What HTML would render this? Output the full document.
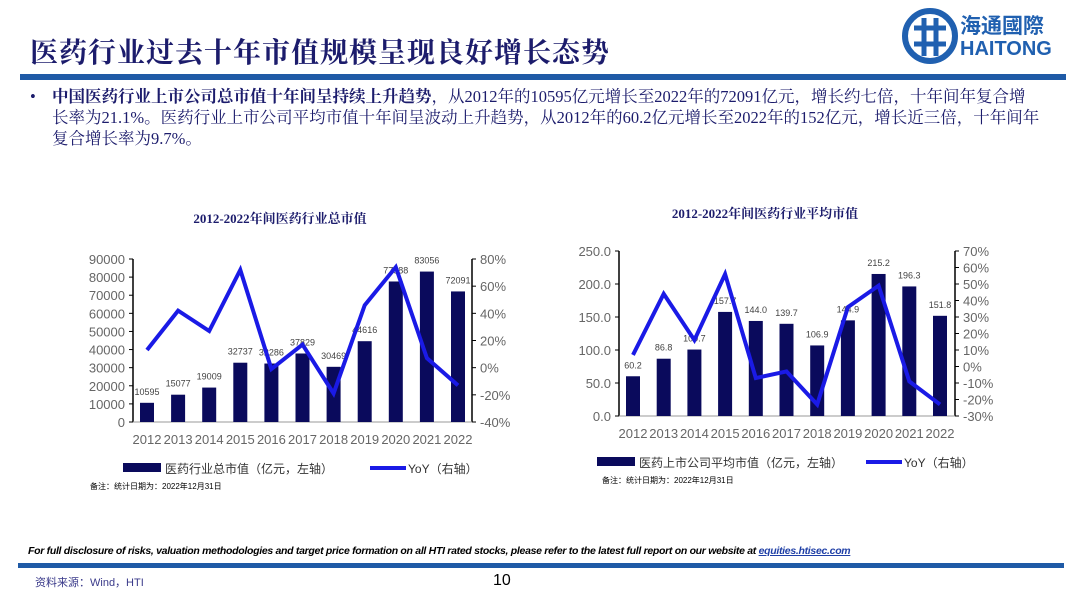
<!DOCTYPE html>
<html><head><meta charset="utf-8">
<style>
body{margin:0;width:1080px;height:607px;background:#fff;position:relative;overflow:hidden;font-family:"Liberation Sans","Noto Sans CJK SC",sans-serif}
.abs{position:absolute}
</style></head><body>
<div class="abs" style="left:30px;top:31px;font-size:28px;font-weight:bold;color:#1c1c6c;font-family:'Liberation Serif','Noto Serif CJK SC',serif;letter-spacing:1px">医药行业过去十年市值规模呈现良好增长态势</div>
<div class="abs" style="left:900px;top:8px;width:160px;height:60px">
<svg width="160" height="60"><circle cx="30" cy="28" r="25" fill="none" stroke="#2060b0" stroke-width="6"/><path d="M14 20 H46 M14 36 H46 M24 10 V48 M36 10 V48" stroke="#2060b0" stroke-width="5"/></svg>
<div class="abs" style="left:60px;top:2px;font-size:21px;font-weight:bold;color:#2060b0">海通國際</div>
<div class="abs" style="left:60px;top:30px;font-size:20px;font-weight:bold;color:#2060b0">HAITONG</div>
</div>
<div class="abs" style="left:20px;top:74px;width:1046px;height:6px;background:#1f5aa6"></div>
<div class="abs" style="left:30px;top:86px;width:1040px;font-size:16.5px;line-height:21px;color:#1c1c6c;font-family:'Liberation Serif','Noto Serif CJK SC',serif;white-space:nowrap">
<span style="position:absolute;left:0;top:0">•</span>
<div style="padding-left:22px"><b>中国医药行业上市公司总市值十年间呈持续上升趋势</b>，从2012年的10595亿元增长至2022年的72091亿元，增长约七倍，十年间年复合增<br>长率为21.1%。医药行业上市公司平均市值十年间呈波动上升趋势，从2012年的60.2亿元增长至2022年的152亿元，增长近三倍，十年间年<br>复合增长率为9.7%。</div></div>

<svg class="abs" style="left:0;top:0" width="1080" height="607" id="charts"></svg>

<div class="abs" style="left:28px;top:545px;font-size:10.5px;font-style:italic;font-weight:bold;color:#000;letter-spacing:-0.3px">For full disclosure of risks, valuation methodologies and target price formation on all HTI rated stocks, please refer to the latest full report on our website at <span style="color:#1f3fa6;text-decoration:underline">equities.htisec.com</span></div>
<div class="abs" style="left:18px;top:563px;width:1046px;height:5px;background:#1f5aa6"></div>
<div class="abs" style="left:35px;top:574px;font-size:11px;color:#3a3a8a">资料来源：Wind，HTI</div>
<div class="abs" style="left:493px;top:572px;font-size:16px;color:#000">10</div>

<script>
const years=["2012","2013","2014","2015","2016","2017","2018","2019","2020","2021","2022"];
const totalCap=[10595,15077,19009,32737,32286,37829,30469,44616,77588,83056,72091];
const totalYoy=[13,42,27,72,-1,17,-19,46,74,7,-13];
const leftTicks=[0,10000,20000,30000,40000,50000,60000,70000,80000,90000];
const leftPct=[-40,-20,0,20,40,60,80];
const avgCap=[60.2,86.8,100.7,157.7,144.0,139.7,106.9,144.9,215.2,196.3,151.8];
const avgYoy=[7,44,16,56,-7,-3,-23,36,49,-9,-23];
const rightTicks=[0,50,100,150,200,250];
const rightPct=[-30,-20,-10,0,10,20,30,40,50,60,70];
const NS="http://www.w3.org/2000/svg";
const svg=document.getElementById('charts');
function el(t,a,txt){const e=document.createElementNS(NS,t);for(const k in a)e.setAttribute(k,a[k]);if(txt!==undefined)e.textContent=txt;svg.appendChild(e);return e;}
function chart(c){
  const y=v=>c.y0-(v-c.lmin)/(c.lmax-c.lmin)*(c.y0-c.y1);
  const yr=v=>c.y0-(v-c.rmin)/(c.rmax-c.rmin)*(c.y0-c.y1);
  const x=i=>c.xc0+i*(c.xc1-c.xc0)/(years.length-1);
  let t=el('text',{x:c.tx,y:c.ty,'text-anchor':'middle','font-size':13,'font-weight':'bold','fill':'#1c1c6c','font-family':'Liberation Serif,Noto Serif CJK SC,serif'},c.title);
  
  let a=el('line',{x1:c.xl,y1:c.y1,x2:c.xl,y2:c.y0,stroke:'#000','stroke-width':1.5});
  a=el('line',{x1:c.xr,y1:c.y1,x2:c.xr,y2:c.y0,stroke:'#000','stroke-width':1.5});
  a=el('line',{x1:c.xl,y1:c.y0,x2:c.xr,y2:c.y0,stroke:'#999','stroke-width':1});
  c.lt.forEach(v=>{const e=el('text',{x:c.xl-8,y:y(v)+5,'text-anchor':'end','font-size':13,fill:'#666'},c.fmt(v));el('line',{x1:c.xl-4,y1:y(v),x2:c.xl,y2:y(v),stroke:'#000'});});
  c.rt.forEach(v=>{const e=el('text',{x:c.xr+8,y:yr(v)+5,'font-size':13,fill:'#666'},v+'%');el('line',{x1:c.xr,y1:yr(v),x2:c.xr+4,y2:yr(v),stroke:'#000'});});
  years.forEach((yv,i)=>{
    const b=el('rect',{x:x(i)-7,y:y(c.bars[i]),width:14,height:c.y0-y(c.bars[i]),fill:'#0a0a5c'});
    
    const l=el('text',{x:x(i),y:y(c.bars[i])-8,'text-anchor':'middle','font-size':9,fill:'#444'},c.lbl(c.bars[i]));
    
    const xt=el('text',{x:x(i),y:c.y0+22,'text-anchor':'middle','font-size':13,fill:'#666'},yv);
    
  });
  const p=el('polyline',{points:c.yoy.map((v,i)=>x(i)+','+yr(v)).join(' '),fill:'none',stroke:'#1a1ae6','stroke-width':4,'stroke-linejoin':'miter'});
  
  let r=el('rect',{x:c.lgx,y:c.lgy-5,width:38,height:9,fill:'#0a0a5c'});
  let lt=el('text',{x:c.lgx+42,y:c.lgy+5,'font-size':12,fill:'#333'},c.leg);
  r=el('line',{x1:c.lgx2,y1:c.lgy,x2:c.lgx2+36,y2:c.lgy,stroke:'#1a1ae6','stroke-width':4});
  lt=el('text',{x:c.lgx2+38,y:c.lgy+5,'font-size':12,fill:'#333'},'YoY（右轴）');
  lt=el('text',{x:c.lgx-35+c.nx,y:c.lgy+21,'font-size':8,fill:'#000'},'备注：统计日期为：2022年12月31日');
}
chart({key:'total',title:'2012-2022年间医药行业总市值',tx:280,ty:223,xl:133,xr:472,y0:422,y1:259,lmin:0,lmax:90000,rmin:-40,rmax:80,xc0:147,xc1:458,bars:totalCap,yoy:totalYoy,lt:leftTicks,rt:leftPct,fmt:v=>String(v),lbl:v=>String(v),leg:'医药行业总市值（亿元，左轴）',lgx:123,lgx2:370,lgy:468,nx:2});
chart({key:'avg',title:'2012-2022年间医药行业平均市值',tx:765,ty:218,xl:619,xr:955,y0:416,y1:251,lmin:0,lmax:250,rmin:-30,rmax:70,xc0:633,xc1:940,bars:avgCap,yoy:avgYoy,lt:rightTicks,rt:rightPct,fmt:v=>v.toFixed(1),lbl:v=>v.toFixed(1),leg:'医药上市公司平均市值（亿元，左轴）',lgx:597,lgx2:866,lgy:462,nx:40});
</script>
</body></html>
